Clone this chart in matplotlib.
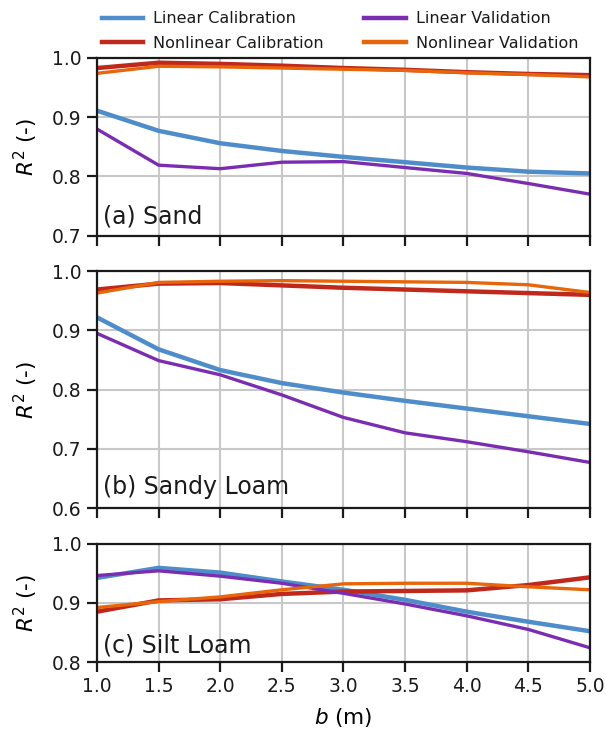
import numpy as np
import matplotlib
matplotlib.use("Agg")
import matplotlib.pyplot as plt

# spacing b (m)
b_vals = [1.0, 1.5, 2.0, 2.5, 3.0, 3.5, 4.0, 4.5, 5.0]

# (a) Sand
sand_lin_cal = [0.911, 0.877, 0.856, 0.843, 0.833, 0.824, 0.815, 0.808, 0.805]
sand_non_cal = [0.983, 0.992, 0.990, 0.987, 0.983, 0.980, 0.976, 0.973, 0.971]
sand_lin_val = [0.880, 0.819, 0.813, 0.824, 0.825, 0.815, 0.805, 0.788, 0.770]
sand_non_val = [0.974, 0.986, 0.985, 0.983, 0.981, 0.979, 0.975, 0.972, 0.968]

# (b) Sandy Loam
sloam_lin_cal = [0.922, 0.868, 0.833, 0.811, 0.795, 0.781, 0.768, 0.755, 0.742]
sloam_non_cal = [0.969, 0.979, 0.980, 0.976, 0.972, 0.969, 0.966, 0.963, 0.960]
sloam_lin_val = [0.895, 0.849, 0.825, 0.791, 0.753, 0.727, 0.712, 0.695, 0.677]
sloam_non_val = [0.963, 0.981, 0.983, 0.984, 0.983, 0.982, 0.981, 0.977, 0.964]

# (c) Silt Loam
silt_lin_cal = [0.942, 0.959, 0.951, 0.936, 0.922, 0.905, 0.885, 0.868, 0.852]
silt_non_cal = [0.885, 0.904, 0.906, 0.915, 0.919, 0.920, 0.921, 0.930, 0.943]
silt_lin_val = [0.946, 0.954, 0.945, 0.933, 0.916, 0.898, 0.878, 0.855, 0.824]
silt_non_val = [0.892, 0.902, 0.910, 0.922, 0.932, 0.933, 0.933, 0.927, 0.922]

panel_titles = ["(a) Sand", "(b) Sandy Loam", "(c) Silt Loam"]
panel_ylims = [(0.7, 1.0), (0.6, 1.0), (0.8, 1.0)]
panels = [
    (sand_lin_cal, sand_non_cal, sand_lin_val, sand_non_val),
    (sloam_lin_cal, sloam_non_cal, sloam_lin_val, sloam_non_val),
    (silt_lin_cal, silt_non_cal, silt_lin_val, silt_non_val),
]

labels = ["Linear Calibration", "Nonlinear Calibration",
          "Linear Validation", "Nonlinear Validation"]
colors = ["#4f8dca", "#c0281b", "#7b2db1", "#e8650a"]
widths = [3.2, 3.2, 2.4, 2.4]

plt.rcParams["font.family"] = "DejaVu Sans"
plt.rcParams["text.color"] = "#1a1a1a"

fig = plt.figure(figsize=(6.06, 7.32), dpi=100)
gs = fig.add_gridspec(3, 1, height_ratios=[3, 4, 2], left=0.160, right=0.9736,
                      top=0.9208, bottom=0.0956, hspace=0.2)

axes = []
for i, (series, title, ylim) in enumerate(zip(panels, panel_titles, panel_ylims)):
    ax = fig.add_subplot(gs[i])
    axes.append(ax)
    for vals, lab, c, lw in zip(series, labels, colors, widths):
        ax.plot(b_vals, vals, color=c, lw=lw, label=lab, zorder=3)
    ax.set_xlim(1.0, 5.0)
    ax.set_ylim(*ylim)
    ax.set_xticks(np.arange(1.0, 5.01, 0.5))
    ax.set_yticks(np.arange(ylim[0], ylim[1] + 0.001, 0.1))
    ax.yaxis.set_major_formatter(matplotlib.ticker.FormatStrFormatter("%.1f"))
    ax.grid(True, color="#c8c8c8", lw=1.5, zorder=0)
    for s in ax.spines.values():
        s.set_linewidth(1.6)
        s.set_color("#1a1a1a")
        s.set_zorder(4)
    ax.tick_params(direction="out", length=7, width=1.6, labelsize=13.5,
                   colors="#1a1a1a", pad=4)
    ax.set_ylabel("$R^2$ (-)", fontsize=15.5, labelpad=9)
    ax.text(0.012, 0.04, title, transform=ax.transAxes, fontsize=17,
            ha="left", va="bottom", zorder=5)
    if i < 2:
        ax.tick_params(labelbottom=False)

axes[-1].set_xlabel("$b$ (m)", fontsize=15.5, labelpad=7)
fig.align_ylabels(axes)

handles, labs = axes[0].get_legend_handles_labels()
leg = fig.legend(handles, labs, ncol=2, loc="upper center",
                 bbox_to_anchor=(0.561, 1.004), frameon=False, fontsize=11.5,
                 handlelength=2.6, handletextpad=0.65, columnspacing=2.5,
                 labelspacing=0.6)
for h in leg.get_lines():
    h.set_linewidth(3.2)

fig.savefig("out.png", dpi=100)
